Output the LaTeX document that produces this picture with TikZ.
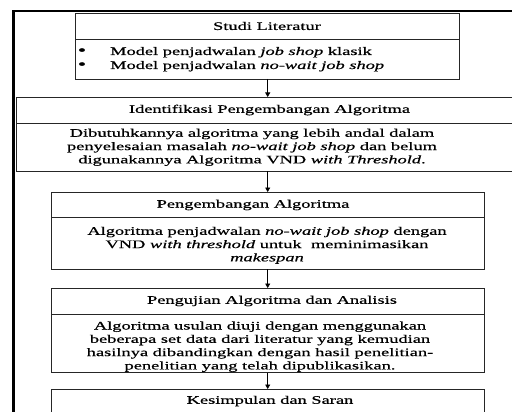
\documentclass[tikz,border=0pt]{standalone}
\usepackage{fontspec}
\setmainfont{Liberation Serif}[FakeStretch=1.6,FakeBold=0.6]
\usetikzlibrary{arrows.meta}
\begin{document}
\begin{tikzpicture}[x=1pt,y=-1pt,
  font=\fontsize{11.5}{13.3}\selectfont,
  box/.style={draw=black!85,line width=0.7pt,inner sep=0pt,outer sep=0pt},
  txt/.style={inner sep=0pt,align=center},
  dot/.style={inner sep=0pt,anchor=base,font=\fontsize{15}{15}\selectfont},
  flow/.style={line width=0.7pt,-{Triangle[length=4.5pt,width=5pt]}}
]
\useasboundingbox (0,0) rectangle (512,412);
\clip (0,0) rectangle (512,412);
% outer frame
\draw[line width=2.7pt] (13.5,420) -- (13.5,11) -- (520,11);

% box 1
\node[box,minimum width=384pt,minimum height=26pt] (h1) at (267,26) {};
\node[box,minimum width=384pt,minimum height=40pt] (b1) at (267,59) {};
% box 2
\node[box,minimum width=498pt,minimum height=26pt] (h2) at (265,110) {};
\node[box,minimum width=498pt,minimum height=48pt] (b2) at (265,147) {};
% box 3
\node[box,minimum width=433pt,minimum height=25.7pt] (h3) at (267.5,204.85) {};
\node[box,minimum width=433pt,minimum height=51.3pt] (b3) at (267.5,243.35) {};
% box 4
\node[box,minimum width=433pt,minimum height=26pt] (h4) at (267.5,301) {};
\node[box,minimum width=433pt,minimum height=58.7pt] (b4) at (267.5,343.35) {};
% box 5
\node[box,minimum width=433pt,minimum height=26pt] (h5) at (267.5,402) {};

% texts
\node[txt] (t1) at (267,26) {Studi Literatur};
\node[dot] (d1) at (82,55) {\textbullet};
\node[dot] (d2) at (82,69) {\textbullet};
\node[inner sep=0pt,anchor=base west] (l1) at (110,55) {Model penjadwalan \textit{job shop} klasik};
\node[inner sep=0pt,anchor=base west] (l2) at (110,69) {Model penjadwalan \textit{no-wait job shop}};

\node[txt] (t2) at (269.5,110) {Identifikasi Pengembangan Algoritma};
\node[txt] (s2) at (252,147.3) {Dibutuhkannya algoritma yang lebih andal dalam\\
penyelesaian masalah \textit{no-wait job shop} dan belum\\
digunakannya Algoritma VND \textit{with Threshold}.};

\node[txt] (t3) at (253,205) {Pengembangan Algoritma};
\node[txt] (s3) at (267,245.3) {Algoritma penjadwalan \textit{no-wait job shop} dengan\\
VND \textit{with threshold} untuk\ \ meminimasikan\\
\textit{makespan}};

\node[txt] (t4) at (272,301) {Pengujian Algoritma dan Analisis};
\node[txt] (s4) at (260,346.7) {Algoritma usulan diuji dengan menggunakan\\
beberapa set data dari literatur yang kemudian\\
hasilnya dibandingkan dengan hasil penelitian-\\
penelitian yang telah dipublikasikan.};

\node[txt] (t5) at (270,401) {Kesimpulan dan Saran};

% connectors
\draw[flow] (b1.south) ++(0.7,0) coordinate (a1) -- (a1 |- h2.north);
\draw[flow] (b2.south -| a1) -- (h3.north -| a1);
\draw[flow] (b3.south -| a1) -- (h4.north -| a1);
\draw[flow] (b4.south -| a1) -- (h5.north -| a1);
\end{tikzpicture}
\end{document}
